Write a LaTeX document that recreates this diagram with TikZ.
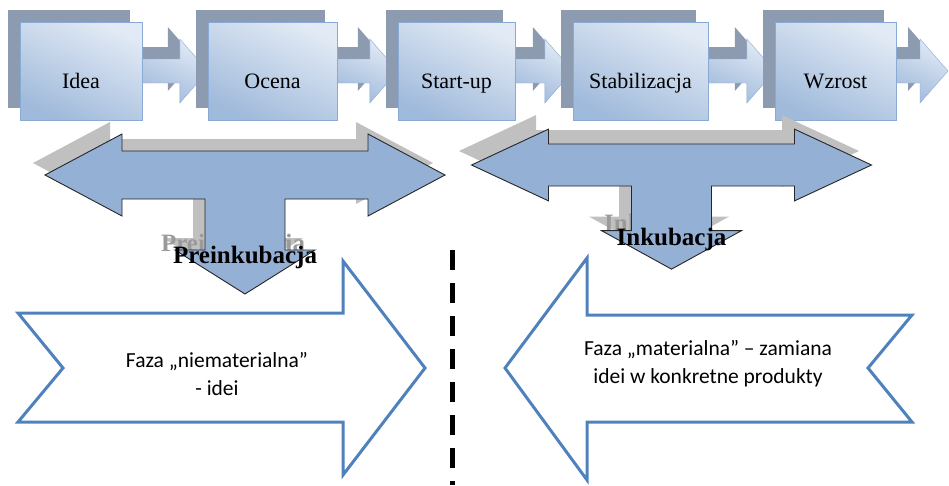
\documentclass[tikz,border=0pt]{standalone}
\usepackage{fontspec}
\setmainfont{Liberation Serif}
\newfontfamily\calibri{Carlito}
\usetikzlibrary{calc,shadows,backgrounds}

\definecolor{boxlight}{HTML}{E2EAF5}
\definecolor{boxdark}{HTML}{A0BADB}
\definecolor{boxline}{HTML}{8AAAD6}
\definecolor{shadowblue}{HTML}{8C9BB0}
\definecolor{tfill}{HTML}{94B0D5}
\definecolor{tshadow}{HTML}{C0C0C0}
\definecolor{outblue}{HTML}{4F81BD}

\tikzset{
  tarrow/.pic={
    \path[pic actions] (-200,0) -- (-123,-41) -- (-123,-24) -- (123,-24) -- (123,-41)
      -- (200,0) -- (123,41) -- (123,24) -- (40,24) -- (40,75) -- (70,75) -- (0,119)
      -- (-70,75) -- (-40,75) -- (-40,24) -- (-123,24) -- (-123,41) -- cycle;
  }
}

\begin{document}
\begin{tikzpicture}[x=1pt,y=-1pt,
    stage/.style={rectangle,inner sep=0pt,minimum height=98pt,draw=boxline,
      top color=boxlight,bottom color=boxdark,shading angle=-25,
      general shadow={fill=shadowblue,shadow xshift=-12pt,shadow yshift=12pt}},
    stagetext/.style={anchor=base,font=\fontsize{22}{26}\selectfont},
    link/.style={draw=boxline,top color=boxlight,bottom color=boxdark,shading angle=-25},
    linkshadow/.style={fill=shadowblue,transform canvas={shift={(-12pt,12pt)}}},
    phase/.style={anchor=base,font=\bfseries\fontsize{25}{30}\selectfont},
    ghost/.style={phase,text=tshadow!80!black},
    outline/.style={draw=outblue,line width=3pt,line join=miter},
    phasetext/.style={align=center,font=\calibri\fontsize{21.5}{28}\selectfont}
  ]
  \useasboundingbox (0,0) rectangle (949,485);

  % stages
  \node (idea)   [stage,minimum width=122pt] at (81,71)    {};
  \node (ocena)  [stage,minimum width=129pt] at (272.5,71) {};
  \node (startup)[stage,minimum width=117pt] at (456.5,71) {};
  \node (stab)   [stage,minimum width=135pt] at (640.5,71) {};
  \node (wzrost) [stage,minimum width=121pt] at (835.5,71) {};
  \coordinate (wzend) at (948,71);

  \node [stagetext] at ([yshift=-17pt]idea.center)    {Idea};
  \node [stagetext] at ([yshift=-17pt]ocena.center)   {Ocena};
  \node [stagetext] at ([yshift=-17pt]startup.center) {Start-up};
  \node [stagetext] at ([yshift=-17pt]stab.center)    {Stabilizacja};
  \node [stagetext] at ([yshift=-17pt]wzrost.center)  {Wzrost};

  \begin{pgfonlayer}{background}
    \foreach \a/\b in {idea/ocena.west,ocena/startup.west,startup/stab.west,
        stab/wzrost.west,wzrost/wzend}{
      \path[linkshadow] let \p1=(\a.east), \p2=(\b) in
        (\x1-1pt,\y1+12pt) -- (\x2-28pt,\y1+12pt) -- (\x2-28pt,\y1+32pt) -- (\x2,\y1)
        -- (\x2-28pt,\y1-32pt) -- (\x2-28pt,\y1-12pt) -- (\x1-1pt,\y1-12pt) -- cycle;
      \path[link] let \p1=(\a.east), \p2=(\b) in
        (\x1,\y1+12pt) -- (\x2-28pt,\y1+12pt) -- (\x2-28pt,\y1+32pt) -- (\x2,\y1)
        -- (\x2-28pt,\y1-32pt) -- (\x2-28pt,\y1-12pt) -- (\x1,\y1-12pt) -- cycle;
    }
  \end{pgfonlayer}

  % phases
  \pic[fill=tshadow] at (233,163) {tarrow};
  \node [ghost] at (233,251) {Preinkubacja};
  \pic[fill=tfill,draw=black!85,line width=0.9pt] at (245,175) {tarrow};
  \node (preink) [phase] at (245,263) {Preinkubacja};

  \pic[fill=tshadow,yscale=0.875] at (659,151) {tarrow};
  \node [ghost] at (659,231) {Inkubacja};
  \pic[fill=tfill,draw=black!85,line width=0.9pt,yscale=0.875] at (671.5,165) {tarrow};
  \node (ink) [phase] at (671.5,245) {Inkubacja};

  % bottom arrows
  \draw[outline] (18,313) -- (343,313) -- (343,261) -- (425,368) -- (343,475)
    -- (343,422) -- (18,422) -- (63,368) -- cycle;
  \node (immat) [phasetext] at (217,374) {Faza „niematerialna”\\- idei};

  \draw[outline] (505,368) -- (587,258) -- (587,315) -- (912,315) -- (868,368)
    -- (912,422) -- (587,422) -- (587,480) -- cycle;
  \node (mat) [phasetext] at (708,364) {Faza „materialna” – zamiana\\idei w konkretne produkty};

  \coordinate (divtop) at (452,250);
  \coordinate (divbot) at (452,485);
  \draw[line width=5pt,dash pattern=on 20pt off 13pt] (divtop) -- (divbot);
\end{tikzpicture}
\end{document}
